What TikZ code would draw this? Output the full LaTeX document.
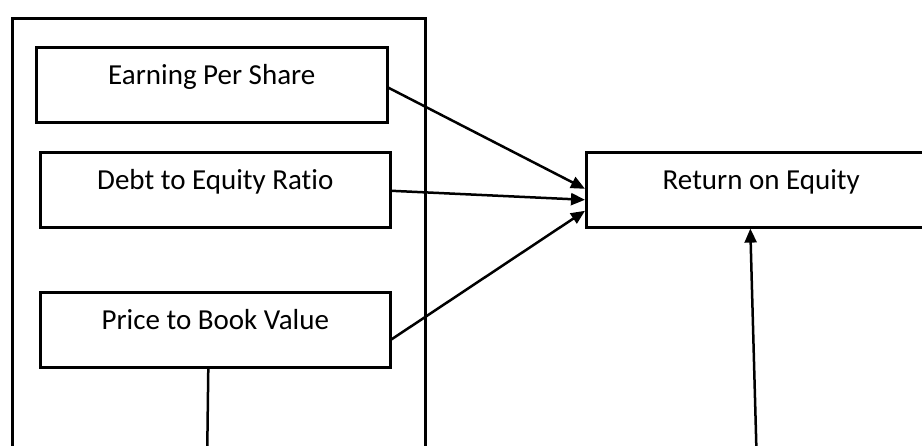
\documentclass[tikz,border=0pt]{standalone}
\usepackage{fontspec}
\setmainfont{Carlito}[Ligatures={NoCommon,NoRequired,NoContextual}]
\usetikzlibrary{arrows.meta}
\begin{document}
\begin{tikzpicture}[x=1pt,y=-1pt,
  box/.style={draw,line width=2.6pt,inner sep=0pt,text height=37pt,text depth=38pt,
    minimum width=#1,font=\fontsize{29}{34}\selectfont},
  conn/.style={line width=2.5pt},
  arr/.style={conn,-{Triangle[length=14pt,width=12pt]}}]
\useasboundingbox (0,0) rectangle (922,445);
\clip (0,0) rectangle (922,445);
\fill[white] (0,0) rectangle (922,445);
\node[draw,line width=3.4pt,minimum width=413pt,minimum height=460pt,inner sep=0pt,anchor=north west] (outer) at (11,17) {};
\node[box=351pt,anchor=north west] (eps) at (35,46) {Earning Per Share};
\node[box=350pt,anchor=north west] (der) at (39,151) {Debt to Equity Ratio};
\node[box=350pt,anchor=north west] (pbv) at (39,291) {Price to Book Value};
\node[box=350pt,anchor=north west] (roe) at (585,151) {Return on Equity};
\coordinate (pbvdown) at (207,470);
\coordinate (roeup) at (757,470);
\draw[arr] ([yshift=-3]eps.east) -- ([yshift=1]roe.west);
\draw[arr] ([yshift=-1]der.east) -- ([yshift=-10]roe.west);
\draw[arr] ([yshift=-9.5]pbv.east) -- ([yshift=-21]roe.west);
\draw[conn] ([xshift=-7]pbv.south) -- (pbvdown);
\draw[arr] (roeup) -- ([xshift=-11]roe.south);
\end{tikzpicture}
\end{document}
